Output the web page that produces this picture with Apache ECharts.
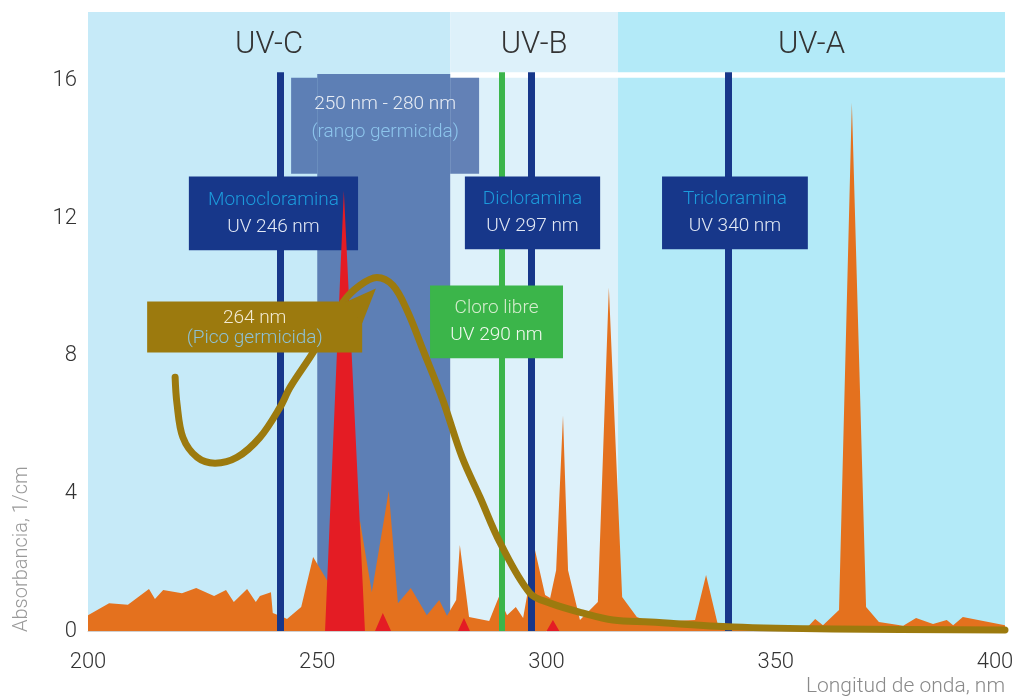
<!DOCTYPE html>
<html>
<head>
<meta charset="utf-8">
<title>Absorbancia UV</title>
<script src="https://cdn.jsdelivr.net/npm/echarts@6.0.0/dist/echarts.min.js"></script>
<style>
  html, body { margin: 0; padding: 0; background: #fff; }
  #chart { width: 1016px; height: 697px; }
</style>
</head>
<body>
<div id="chart"></div>
<script>
// ejes
const xTicks = [200, 250, 300, 350, 400]
const yTicks = [0, 4, 8, 12, 16]

// bandas UV (nm)
const bandNames = ['UV-C', 'UV-B', 'UV-A']
const bandStart = [200, 279, 315.6]
const bandEnd = [279, 315.6, 400]

// espectro de la lampara (naranja)
const lampX = [200, 204.6, 208.7, 213.3, 214.6, 216.4, 220.5, 223.6, 227.5, 230.1, 231.8, 234.7, 236.6, 237.5,
  239.9, 240.3, 242.5, 243.4, 246.5, 249.1, 252.1, 255.0, 259.3, 261.9, 265.6, 267.6, 270.4, 273.9, 276.6,
  278.3, 280.3, 281.1, 283.1, 287.5, 289.6, 291.4, 293.3, 294.9, 297.5, 299.7, 300.8, 302.1, 303.6, 304.7,
  307.3, 311.2, 313.6, 316.5, 319.7, 322.6, 332.4, 334.8, 337.4, 357.0, 358.6, 360.3, 363.8, 366.6, 369.7,
  372.5, 377.8, 380.6, 384.3, 387.3, 388.7, 390.8, 400]
const lampY = [0.46, 0.81, 0.76, 1.22, 0.93, 1.19, 1.10, 1.25, 1.02, 1.19, 0.84, 1.22, 0.84, 1.02,
  1.13, 0.52, 0.41, 0.35, 0.70, 2.15, 1.48, 1.20, 3.22, 1.13, 4.07, 0.81, 1.25, 0.46, 0.90,
  0.44, 0.90, 2.50, 0.41, 0.29, 0.99, 0.46, 0.70, 0.38, 2.35, 1.05, 0.96, 1.77, 6.27, 1.77,
  0.32, 0.84, 9.99, 0.99, 0.41, 0.26, 0.32, 1.63, 0.17, 0.12, 0.35, 0.17, 0.61, 15.36, 0.70,
  0.26, 0.15, 0.38, 0.20, 0.32, 0.17, 0.41, 0.17]

// picos rojos
const redX = [251.7, 255.8, 260.4, 262.6, 264.3, 266.1, 280.7, 282.0, 283.3, 300.0, 301.4, 302.8]
const redY = [0, 12.8, 0, 0, 0.52, 0, 0, 0.38, 0, 0, 0.32, 0]

// curva germicida
const germX = [219.0, 219.4, 220.7, 223.8, 227.7, 232.5, 237.5, 241.9, 244.1, 249.1, 255.6, 259.3, 263.0,
  266.5, 269.6, 273.1, 277.4, 281.6, 285.5, 289.9, 296.4, 300.8, 308.0, 314.5, 322.6, 340.7, 362.5, 400]
const germY = [7.38, 6.62, 5.63, 5.05, 4.88, 5.05, 5.63, 6.51, 7.09, 8.10, 9.56, 10.05, 10.28,
  10.05, 9.32, 8.16, 6.71, 5.05, 3.89, 2.56, 1.10, 0.81, 0.52, 0.32, 0.26, 0.12, 0.06, 0.03]

// lineas verticales de compuestos
const markerNm = [242, 290.3, 296.6, 339.7]
const markerNames = ['Monocloramina', 'Cloro libre', 'Dicloramina', 'Tricloramina']
const markerUv = ['UV 246 nm', 'UV 290 nm', 'UV 297 nm', 'UV 340 nm']

const rangoTexts = ['250 nm - 280 nm', '(rango germicida)']
const picoTexts = ['264 nm', '(Pico germicida)']

// colores
const navy = '#17378A'
const green = '#3BB54A'
const olive = '#9C7A0E'
const orange = '#E4711E'
const red = '#E41C24'
const bandColors = ['#C6EAF8', '#DDF1FA', '#B3EAF8']
const rangoColor = 'rgba(57,91,159,0.75)'
const font = 'Roboto'

const pair = (xs, ys) => xs.map((x, i) => [x, ys[i]])

function area(x1, x2, y1, y2, color, label) {
  const a = { xAxis: x1, yAxis: y1, itemStyle: { color: color } }
  if (label) a.label = label
  return [a, { xAxis: x2, yAxis: y2 }]
}

function boxLabel(title, sub, titleColor, subColor, lh, dy) {
  return {
    show: true,
    position: 'inside',
    offset: [0, dy || 0],
    formatter: '{t|' + title + '}\n{s|' + sub + '}',
    rich: {
      t: { color: titleColor, fontSize: 19, fontFamily: font, fontWeight: 300, lineHeight: lh },
      s: { color: subColor, fontSize: 19, fontFamily: font, fontWeight: 300, lineHeight: lh }
    }
  }
}

// bandas: cuerpo, franja blanca y cabecera con el nombre
const bandAreas = []
bandNames.forEach((name, i) => {
  bandAreas.push(area(bandStart[i], bandEnd[i], 0, i === 0 ? 18 : 16.09, bandColors[i]))
  if (i > 0) bandAreas.push(area(bandStart[i], bandEnd[i], 16.25, 18, bandColors[i]))
  bandAreas.push(area(bandStart[i], bandEnd[i], 16.25, 18, 'transparent', {
    show: true, position: 'inside', offset: [0, 3], formatter: name,
    color: '#333333', fontSize: 31, fontFamily: font, fontWeight: 300
  }))
})

const rangoAreas = [
  area(250, 279, 0, 16.2, rangoColor),
  area(244.3, 250, 13.3, 16.09, rangoColor),
  area(279, 285.3, 13.3, 16.09, rangoColor),
  area(244.3, 285.3, 13.3, 16.09, 'transparent',
    boxLabel(rangoTexts[0], rangoTexts[1], '#E8EDF5', '#8DC5EC', 28, -7))
]

const boxTitle = '#1C9BDC'
const boxSub = '#E4EAF5'
const boxAreas = [
  area(222.0, 258.9, 11.07, 13.22, navy, boxLabel(markerNames[0], markerUv[0], boxTitle, boxSub, 27)),
  area(274.6, 303.6, 7.93, 10.05, green, boxLabel(markerNames[1], markerUv[1], '#D4ECCD', '#F2F9F0', 27)),
  area(282.2, 311.7, 11.10, 13.22, navy, boxLabel(markerNames[2], markerUv[2], boxTitle, boxSub, 27)),
  area(325.2, 357.0, 11.10, 13.22, navy, boxLabel(markerNames[3], markerUv[3], boxTitle, boxSub, 27))
]

const picoArea = [
  area(212.9, 259.8, 8.10, 9.58, olive, boxLabel(picoTexts[0], picoTexts[1], '#F2EAD2', '#8EC2D6', 20, 1))
]
const wedge = [[256.1, 9.56], [262.8, 9.96], [259.8, 8.95]]

const markerLines = markerNm.map((x, i) => [
  { coord: [x, 0], lineStyle: { color: i === 1 ? green : navy, width: i === 1 ? 6 : 7, type: 'solid' } },
  { coord: [x, 16.25] }
])

const chart = echarts.init(document.getElementById('chart'))

chart.setOption({
  animation: false,
  backgroundColor: '#ffffff',
  grid: { left: 88, right: 11, top: 12, bottom: 66, outerBoundsMode: 'none', containLabel: false },
  xAxis: {
    type: 'value',
    min: xTicks[0],
    max: xTicks[xTicks.length - 1],
    interval: 50,
    axisLine: { show: true, lineStyle: { color: '#cfcfcf', width: 1 } },
    axisTick: { show: false },
    splitLine: { show: false },
    axisLabel: {
      margin: 20,
      color: '#333333',
      fontSize: 22,
      fontFamily: font,
      fontWeight: 300,
      formatter: v => v === 400 ? '{m|' + v + '}' : String(v),
      rich: { m: { padding: [0, 20, 0, 0], color: '#333333', fontSize: 22, fontFamily: font, fontWeight: 300 } }
    }
  },
  yAxis: {
    type: 'value',
    min: 0,
    max: 18,
    interval: 4,
    axisLine: { show: false },
    axisTick: { show: false },
    splitLine: { show: false },
    axisLabel: {
      margin: 11,
      color: '#333333',
      fontSize: 22,
      fontFamily: font,
      fontWeight: 300,
      showMaxLabel: false,
      formatter: v => yTicks.indexOf(v) >= 0 ? String(v) : ''
    }
  },
  graphic: [
    {
      type: 'text', x: 1005, y: 687, silent: true,
      style: { text: 'Longitud de onda, nm', fill: '#8a8a8a', fontSize: 21, fontFamily: font, fontWeight: 300,
        align: 'right', verticalAlign: 'middle' }
    },
    {
      type: 'text', x: 22, y: 632, rotation: Math.PI / 2, silent: true,
      style: { text: 'Absorbancia, 1/cm', fill: '#999999', fontSize: 20, fontFamily: font, fontWeight: 300,
        align: 'left', verticalAlign: 'middle' }
    }
  ],
  series: [
    { type: 'line', name: 'bandas', data: [], z: 1, silent: true,
      markArea: { z: 1, silent: true, data: bandAreas } },
    { type: 'line', name: 'rango', data: [], z: 2, silent: true,
      markArea: { z: 2, silent: true, data: rangoAreas } },
    { type: 'line', name: 'lampara', data: pair(lampX, lampY), z: 3, silent: true,
      symbol: 'none', lineStyle: { width: 0 }, areaStyle: { color: orange, opacity: 1 } },
    { type: 'line', name: 'lineas', data: [], z: 4, silent: true,
      markLine: { z: 4, silent: true, symbol: ['none', 'none'], label: { show: false }, data: markerLines } },
    { type: 'line', name: 'cajas', data: [], z: 5, silent: true,
      markArea: { z: 5, silent: true, data: boxAreas } },
    { type: 'line', name: 'rojo', data: pair(redX, redY), z: 6, silent: true,
      symbol: 'none', lineStyle: { width: 0 }, areaStyle: { color: red, opacity: 1 } },
    { type: 'line', name: 'germicida', data: pair(germX, germY), z: 8, silent: true,
      smooth: 0.35, symbol: 'none',
      lineStyle: { color: olive, width: 7, cap: 'round', join: 'round' } },
    { type: 'line', name: 'pico', data: [], z: 9, silent: true,
      markArea: { z: 9, silent: true, data: picoArea } },
    { type: 'custom', name: 'flecha', z: 9, silent: true, clip: false, data: [[0, 0]],
      renderItem: (params, api) => ({
        type: 'polygon',
        shape: { points: wedge.map(p => api.coord(p)) },
        style: { fill: olive }
      }) }
  ]
})
</script>
</body>
</html>
